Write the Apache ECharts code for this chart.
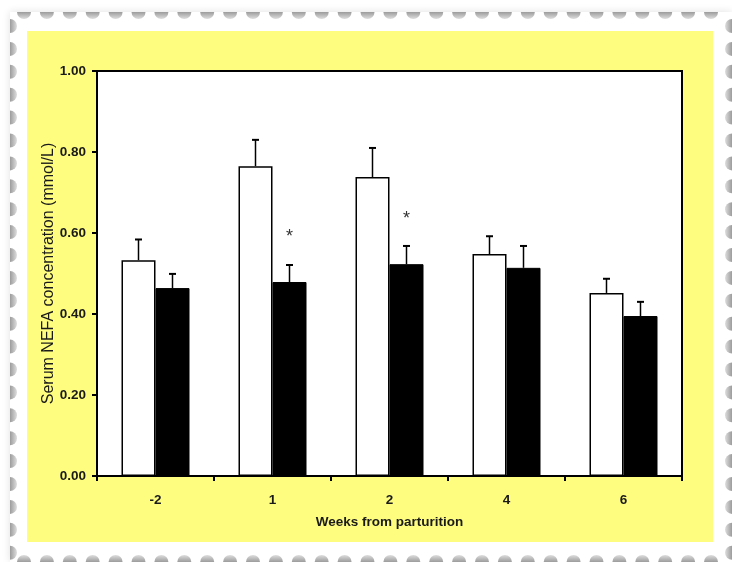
<!DOCTYPE html>
<html>
<head>
<meta charset="utf-8">
<script src="https://cdn.jsdelivr.net/npm/echarts@6/dist/echarts.min.js"></script>
<style>html,body{margin:0;padding:0;background:#fff}#c{width:732px;height:562px}</style>
</head>
<body>
<div id="c"></div>
<script>
var categories = ['-2', '1', '2', '4', '6'];
var controlMean = [0.533, 0.765, 0.738, 0.548, 0.452];
var controlErr  = [0.051, 0.065, 0.072, 0.044, 0.035];
var treatMean   = [0.464, 0.479, 0.523, 0.514, 0.395];
var treatErr    = [0.035, 0.042, 0.045, 0.054, 0.035];
var asterisks   = [null, 0.600, 0.645, null, null];

var chart = echarts.init(document.getElementById('c'), null, {renderer: 'canvas'});

var BW = 34;
function errSeries(means, errs, side) {
  return {
    type: 'custom',
    z: 5,
    data: means.map(function (m, i) { return [i, m, m + errs[i]]; }),
    renderItem: function (params, api) {
      var lo = api.coord([api.value(0), api.value(1)]);
      var hi = api.coord([api.value(0), api.value(2)]);
      var x = lo[0] + side * BW / 2;
      return {
        type: 'group',
        children: [
          {type: 'line', shape: {x1: x, y1: lo[1], x2: x, y2: hi[1]}, style: {stroke: '#000', lineWidth: 1.5}},
          {type: 'line', shape: {x1: x - 3.5, y1: hi[1], x2: x + 3.5, y2: hi[1]}, style: {stroke: '#000', lineWidth: 2}}
        ]
      };
    }
  };
}

// stamp perforation graphics
var graphics = [];
graphics.push({type: 'rect', shape: {x: 10, y: 12, width: 722, height: 550}, style: {fill: '#ffffff', shadowBlur: 8, shadowColor: 'rgba(0,0,0,0.12)'}, z: -10});
function hole(dir) {
  var stops = [{offset: 0, color: '#9c9c9c'}, {offset: 1, color: '#dedede'}];
  var g = {type: 'linear', x: 0, y: 0, x2: 0, y2: 1, colorStops: stops};
  if (dir === 'bottom') { g.x = 0; g.y = 1; g.x2 = 0; g.y2 = 0; }
  if (dir === 'left') { g.x = 0; g.y = 0; g.x2 = 1; g.y2 = 0; }
  if (dir === 'right') { g.x = 1; g.y = 0; g.x2 = 0; g.y2 = 0; }
  return {fill: g};
}
var r = 7, step = 22.9;
for (var x = 24; x < 732; x += step) {
  graphics.push({type: 'sector', shape: {cx: x, cy: 12, r: r, startAngle: 0, endAngle: Math.PI}, style: hole('top'), z: -9});
  graphics.push({type: 'sector', shape: {cx: x, cy: 562, r: r, startAngle: Math.PI, endAngle: 2 * Math.PI}, style: hole('bottom'), z: -9});
}
for (var y = 26; y < 562; y += step) {
  graphics.push({type: 'sector', shape: {cx: 10, cy: y, r: r, startAngle: -Math.PI / 2, endAngle: Math.PI / 2}, style: hole('left'), z: -9});
  graphics.push({type: 'sector', shape: {cx: 732, cy: y, r: r, startAngle: Math.PI / 2, endAngle: 3 * Math.PI / 2}, style: hole('right'), z: -9});
}
graphics.push({type: 'rect', shape: {x: 27, y: 31, width: 686, height: 511}, style: {fill: '#fefd80'}, z: -8});

var labelFont = {fontFamily: 'Liberation Sans', fontWeight: 'bold', fontSize: 13.5, color: '#1a1a1a'};

chart.setOption({
  animation: false,
  backgroundColor: '#ffffff',
  graphic: graphics,
  grid: {left: 97, right: 50, top: 71, bottom: 86, show: true, backgroundColor: '#ffffff', borderColor: '#000', borderWidth: 2},
  xAxis: {
    type: 'category',
    data: categories,
    name: 'Weeks from parturition',
    nameLocation: 'middle',
    nameGap: 39,
    nameMoveOverlap: false,
    nameTextStyle: labelFont,
    axisLine: {lineStyle: {color: '#000', width: 2}},
    axisTick: {show: true, alignWithLabel: false, length: 5, lineStyle: {color: '#000', width: 2}},
    axisLabel: Object.assign({margin: 17}, labelFont),
    splitLine: {show: false}
  },
  yAxis: {
    type: 'value',
    min: 0, max: 1, interval: 0.2,
    name: 'Serum NEFA concentration (mmol/L)',
    nameLocation: 'middle',
    nameGap: 40,
    nameMoveOverlap: false,
    nameTextStyle: {fontFamily: 'Liberation Sans', fontWeight: 'normal', fontSize: 16, color: '#1a1a1a'},
    axisLine: {show: true, lineStyle: {color: '#000', width: 2}},
    axisTick: {show: true, length: 5, lineStyle: {color: '#000', width: 2}},
    axisLabel: Object.assign({margin: 11, formatter: function (v) { return v.toFixed(2); }}, labelFont),
    splitLine: {show: false}
  },
  series: [
    {type: 'bar', data: controlMean, barWidth: BW, barGap: '0%', itemStyle: {color: '#fff', borderColor: '#000', borderWidth: 1.5}, z: 3},
    {type: 'bar', data: treatMean, barWidth: BW, barGap: '0%', itemStyle: {color: '#000', borderColor: '#000', borderWidth: 1}, z: 3},
    errSeries(controlMean, controlErr, -1),
    errSeries(treatMean, treatErr, 1),
    {
      type: 'custom', z: 6,
      data: asterisks.map(function (v, i) { return [i, v]; }).filter(function (d) { return d[1] != null; }),
      renderItem: function (params, api) {
        var p = api.coord([api.value(0), api.value(1)]);
        return {type: 'text', style: {text: '*', x: p[0] + BW / 2, y: p[1] + 4, align: 'center', verticalAlign: 'middle', fontSize: 18, fontFamily: 'Liberation Sans', fill: '#333'}};
      }
    }
  ]
});
</script>
</body>
</html>
